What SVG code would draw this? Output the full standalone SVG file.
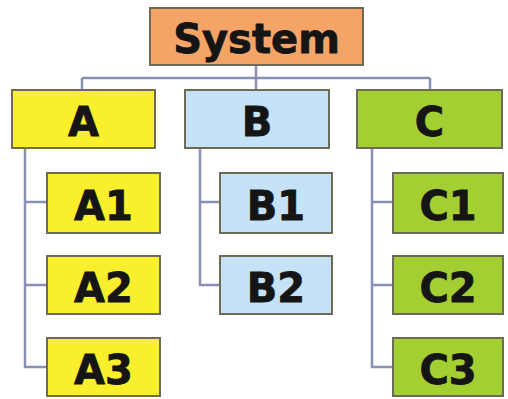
<svg xmlns="http://www.w3.org/2000/svg" width="508" height="399" viewBox="0 0 508 399">
  <style>
    .box { stroke: #6e6a58; stroke-width: 2; }
    .sys { fill: #F5A468; }
    .a { fill: #FAEF2C; }
    .b { fill: #C6E2F6; }
    .c { fill: #A4CF32; }
    .lbl { font-family: "DejaVu Sans", Verdana, sans-serif; font-weight: bold; font-size: 40px; fill: #151515; stroke: #151515; stroke-width: 0.8; text-anchor: middle; }
    .wire { fill: none; stroke: #8a90b4; stroke-width: 2.5; }
  </style>
  <rect width="508" height="399" fill="#ffffff"/>

  <g id="connectors">
    <path class="wire" d="M256 65 V78 M82 78 H430 M82 78 V90 M256 78 V90 M430 78 V90"/>
    <path class="wire" d="M25 148 V367 H47 M25 202 H47 M25 285 H47"/>
    <path class="wire" d="M200 148 V285 H220 M200 202 H220"/>
    <path class="wire" d="M372 148 V367 H393 M372 202 H393 M372 285 H393"/>
  </g>

  <g id="system">
    <rect class="box sys" x="150" y="8" width="213" height="57"/>
    <text class="lbl" x="256.5" y="53">System</text>
  </g>

  <g id="A">
    <rect class="box a" x="12" y="90" width="143" height="58"/>
    <text class="lbl" x="83.5" y="136">A</text>
  </g>
  <g id="B">
    <rect class="box b" x="185" y="90" width="144" height="58"/>
    <text class="lbl" x="257" y="136">B</text>
  </g>
  <g id="C">
    <rect class="box c" x="357" y="90" width="145" height="58"/>
    <text class="lbl" x="429.5" y="136">C</text>
  </g>

  <g id="A1">
    <rect class="box a" x="47" y="173" width="113" height="60"/>
    <text class="lbl" x="103.5" y="220">A1</text>
  </g>
  <g id="A2">
    <rect class="box a" x="47" y="256" width="113" height="58"/>
    <text class="lbl" x="103.5" y="302">A2</text>
  </g>
  <g id="A3">
    <rect class="box a" x="47" y="338" width="113" height="58"/>
    <text class="lbl" x="103.5" y="384">A3</text>
  </g>

  <g id="B1">
    <rect class="box b" x="220" y="173" width="112" height="60"/>
    <text class="lbl" x="276" y="220">B1</text>
  </g>
  <g id="B2">
    <rect class="box b" x="220" y="256" width="112" height="58"/>
    <text class="lbl" x="276" y="302">B2</text>
  </g>

  <g id="C1">
    <rect class="box c" x="393" y="173" width="110" height="60"/>
    <text class="lbl" x="448" y="220">C1</text>
  </g>
  <g id="C2">
    <rect class="box c" x="393" y="256" width="110" height="58"/>
    <text class="lbl" x="448" y="302">C2</text>
  </g>
  <g id="C3">
    <rect class="box c" x="393" y="338" width="110" height="58"/>
    <text class="lbl" x="448" y="384">C3</text>
  </g>
</svg>
